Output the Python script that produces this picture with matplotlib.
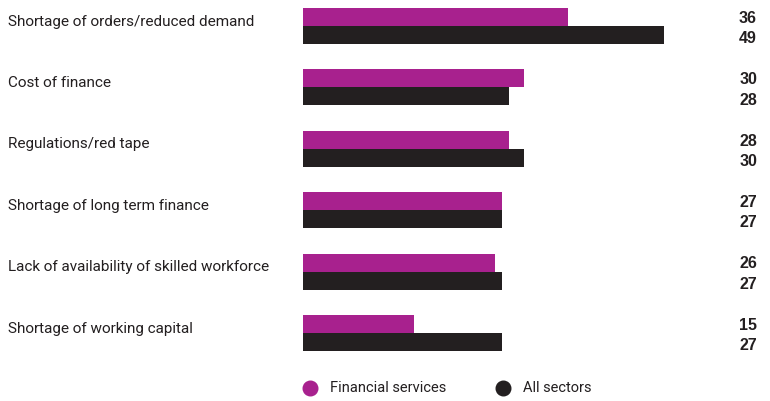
import matplotlib
matplotlib.use("Agg")
import matplotlib.pyplot as plt
import matplotlib.transforms as mtransforms

categories = [
    "Shortage of orders/reduced demand",
    "Cost of finance",
    "Regulations/red tape",
    "Shortage of long term finance",
    "Lack of availability of skilled workforce",
    "Shortage of working capital",
]
financial_services = [36, 30, 28, 27, 26, 15]
all_sectors = [49, 28, 30, 27, 27, 27]
series_names = ["Financial services", "All sectors"]
colors = ["#A8218E", "#231F20"]

W, H = 770, 401
fig = plt.figure(figsize=(W / 100, H / 100), dpi=100)
# axes: bars start at x=303px, end of value column at 757px
x0, x1 = 303, 757
ax = fig.add_axes([x0 / W, 0, (x1 - x0) / W, 1])
px_per_unit = 7.37
ax.set_xlim(0, (x1 - x0) / px_per_unit)
step = 61.4
top = 26
ax.set_ylim((H - top) / step, -top / step)
ax.axis("off")

bh = 18 / step
idx = list(range(len(categories)))
ax.barh([i - bh / 2 for i in idx], financial_services, height=bh, color=colors[0], linewidth=0)
ax.barh([i + bh / 2 for i in idx], all_sectors, height=bh, color=colors[1], linewidth=0)

label_tr = mtransforms.blended_transform_factory(fig.transFigure, ax.transData)
val_tr = mtransforms.blended_transform_factory(ax.transAxes, ax.transData)
for i, (cat, a, b) in enumerate(zip(categories, financial_services, all_sectors)):
    ax.text(8 / W, i - bh / 2 + 0.075, cat, transform=label_tr, ha="left", va="center",
            fontsize=11, family="Roboto", color="#231F20")
    ax.text(1.0, i - bh / 2 + 0.02, str(a), transform=val_tr, ha="right", va="center",
            fontsize=11.5, fontweight="bold", family="Liberation Sans", color="#231F20")
    ax.text(1.0, i + bh / 2 + 0.06, str(b), transform=val_tr, ha="right", va="center",
            fontsize=11.5, fontweight="bold", family="Liberation Sans", color="#231F20")

# legend
ly = 1 - 387.5 / H
for name, col, mx in zip(series_names, colors, [310, 503]):
    fig.add_artist(plt.Line2D([mx / W], [ly], marker="o", markersize=10.5, color=col,
                              linestyle="none", transform=fig.transFigure))
    fig.text((mx + 20) / W, ly, name, ha="left", va="center", fontsize=10.5,
             family="Roboto", color="#231F20")

fig.savefig("out.png", dpi=100)
